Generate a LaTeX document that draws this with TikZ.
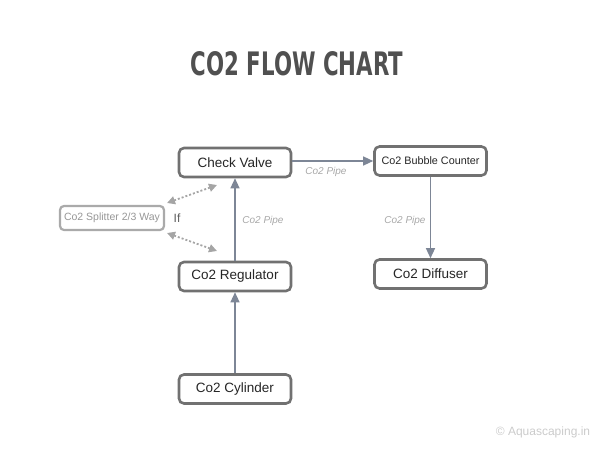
\documentclass[tikz,border=0pt]{standalone}
\usepackage{fontspec}
\setmainfont{Liberation Sans}
\newfontfamily\titlefont{DejaVu Sans Condensed Bold}
\usetikzlibrary{arrows.meta}
\definecolor{boxline}{HTML}{717171}
\definecolor{boxtext}{HTML}{262626}
\definecolor{arrowc}{HTML}{7D8696}
\definecolor{lbl}{HTML}{A8A8A8}
\definecolor{dotc}{HTML}{A5A5A5}
\definecolor{titlec}{HTML}{505050}
\tikzset{
  x=1pt,y=-1pt,
  box/.style={draw=boxline,line width=2.6pt,rounded corners=5pt,fill=white,text=boxtext,minimum width=112pt,minimum height=29pt,inner sep=0pt,font=\fontsize{13.5}{15}\selectfont},
  smallbox/.style={draw=boxline!60,line width=2.2pt,rounded corners=4pt,fill=white,text=lbl!90!black,minimum width=104pt,minimum height=24pt,inner sep=0pt,font=\fontsize{10.5}{12}\selectfont},
  flow/.style={draw=arrowc,line width=1.3pt,-{Triangle[length=10pt,width=9pt]}},
  dotted2/.style={draw=dotc,line width=1.8pt,dash pattern=on 2pt off 2pt,{Triangle[length=8pt,width=8pt]}-{Triangle[length=8pt,width=8pt]}},
  pipe/.style={text=lbl,font=\itshape\fontsize{10}{12}\selectfont},
}
\begin{document}
\begin{tikzpicture}
\useasboundingbox (0,0) rectangle (600,450);
\node[text=titlec,inner sep=0pt] (title) at (297,64) {\resizebox{212pt}{24pt}{\titlefont CO2 FLOW CHART}};
\node[box] (check) at (235,162.5) {Check Valve};
\node[box,font=\fontsize{10.8}{12}\selectfont] (bubble) at (430.5,161) {Co2 Bubble Counter};
\node[smallbox] (split) at (112,218) {Co2 Splitter 2/3 Way};
\node[box] (reg) at (235,276.5) {Co2 Regulator};
\node[box] (diff) at (430.5,274) {Co2 Diffuser};
\node[box] (cyl) at (235,389) {Co2 Cylinder};
\node[text=boxtext!75,font=\fontsize{12}{13}\selectfont] (if) at (177,218) {If};
\coordinate (d1a) at (167,203);
\coordinate (d1b) at (217,185);
\coordinate (d2a) at (167,233);
\coordinate (d2b) at (217,251);
\draw[dotted2] (d1a) -- (d1b);
\draw[dotted2] (d2a) -- (d2b);
\draw[flow] (cyl.north) -- (reg.south);
\draw[flow] (reg.north) -- (check.south);
\draw[flow] (check.east |- bubble.west) -- (bubble.west);
\draw[flow] (bubble.south) -- (diff.north);
\node[pipe] (p1) at (263,221) {Co2 Pipe};
\node[pipe] (p2) at (326,172) {Co2 Pipe};
\node[pipe] (p3) at (405,221) {Co2 Pipe};
\node[text=lbl!60,font=\fontsize{12}{14}\selectfont] (copy) at (543,432) {© Aquascaping.in};
\end{tikzpicture}
\end{document}
